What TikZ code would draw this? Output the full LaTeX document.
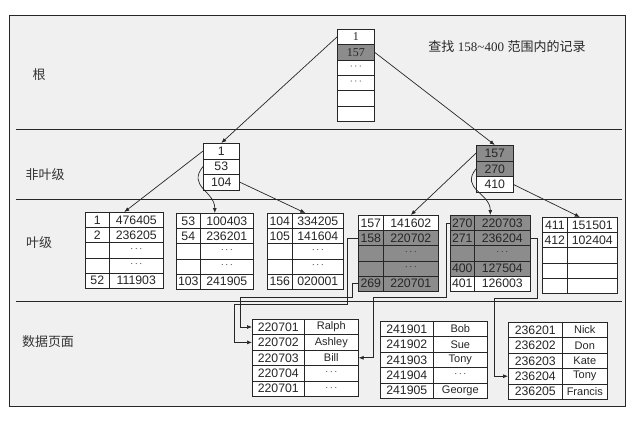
\documentclass[tikz,border=0pt]{standalone}
\usepackage{fontspec}
\setmainfont{Liberation Sans}
\newfontfamily\cjk{Noto Sans CJK SC}
\newfontfamily\serifnum{Liberation Serif}
\usetikzlibrary{arrows.meta,calc}
\newcommand\trow[9]{%
 \pgfmathsetlengthmacro\wa{#3-#2}\pgfmathsetlengthmacro\wb{#4-#3}%
 \node[cell,#9,anchor=north west,minimum width=\wa,minimum height=#6pt] (#1a) at (#2,#5) {#7};%
 \node[cell,#9,anchor=north west,minimum width=\wb,minimum height=#6pt] (#1b) at (#3,#5) {#8};}
\newcommand\scell[7]{%
 \pgfmathsetlengthmacro\wa{#3-#2}%
 \node[cell,#7,anchor=north west,minimum width=\wa,minimum height=#5pt] (#1) at (#2,#4) {#6};}
\newcommand\dd{{\fontsize{9}{9}\selectfont ·\,·\,·}}
\newcommand\nm[1]{{\fontsize{11}{11}\selectfont #1}}
\begin{document}
\begin{tikzpicture}[x=1pt,y=-1pt,
  cell/.style={draw=black!85,line width=0.6pt,fill=white,inner sep=0pt,text=black!85,
    font=\fontsize{12.3}{12.3}\selectfont},
  shade/.style={fill=black!45},
  rootcell/.style={font=\serifnum\fontsize{12}{12}\selectfont},
  arr/.style={-{Latex[length=5pt,width=4pt]},line width=0.7pt,draw=black!85},
  sep/.style={line width=0.8pt,draw=black!85},
  lvl/.style={font=\cjk\fontsize{13}{13}\selectfont,text=black!80}]
\useasboundingbox (0,0) rectangle (632,421);
% frame and separators
\draw[line width=0.9pt,draw=black!85,fill=black!6] (9,15) rectangle (625,406);
\coordinate (s1a) at (16,129); \coordinate (s1b) at (622,129);
\coordinate (s2a) at (16,199); \coordinate (s2b) at (622,199);
\coordinate (s3a) at (16,301); \coordinate (s3b) at (622,301);
\draw[sep] (s1a) -- (s1b);
\draw[sep] (s2a) -- (s2b);
\draw[sep] (s3a) -- (s3b);
% level labels
\node[lvl] (Lroot) at (39,75) {根};
\node[lvl] (Lnl) at (45,175) {非叶级};
\node[lvl] (Lleaf) at (39,243) {叶级};
\node[lvl] (Ldata) at (48,342) {数据页面};
\node[font=\fontsize{13}{13}\selectfont,text=black!85] (title) at (507,47)
  {{\cjk 查找} {\serifnum 158\textasciitilde 400} {\cjk 范围内的记录}};
% root
\scell{r1}{337}{374}{29}{15.3}{1}{rootcell}
\scell{r2}{337}{374}{44.3}{15.3}{157}{rootcell,shade}
\scell{r3}{337}{374}{59.6}{15.3}{\dd}{rootcell}
\scell{r4}{337}{374}{74.9}{15.3}{\dd}{rootcell}
\scell{r5}{337}{374}{90.2}{15.3}{}{rootcell}
\scell{r6}{337}{374}{105.5}{15.3}{}{rootcell}
% non-leaf
\scell{na1}{203}{239}{143}{15.5}{1}{}
\scell{na2}{203}{239}{158.5}{15.5}{53}{}
\scell{na3}{203}{239}{174}{15.5}{104}{}
\scell{nb1}{476}{513}{145}{15.7}{157}{shade}
\scell{nb2}{476}{513}{160.7}{15.7}{270}{shade}
\scell{nb3}{476}{513}{176.4}{15.7}{410}{}
% leaf 1
\trow{la1}{85}{109}{163}{212}{15.2}{1}{476405}{}
\trow{la2}{85}{109}{163}{227.2}{15.2}{2}{236205}{}
\trow{la3}{85}{109}{163}{242.4}{15.2}{}{\dd}{}
\trow{la4}{85}{109}{163}{257.6}{15.2}{}{\dd}{}
\trow{la5}{85}{109}{163}{272.8}{15.2}{52}{111903}{}
% leaf 2
\trow{lb1}{176}{200}{253}{213}{15.2}{53}{100403}{}
\trow{lb2}{176}{200}{253}{228.2}{15.2}{54}{236201}{}
\trow{lb3}{176}{200}{253}{243.4}{15.2}{}{\dd}{}
\trow{lb4}{176}{200}{253}{258.6}{15.2}{}{\dd}{}
\trow{lb5}{176}{200}{253}{273.8}{15.2}{103}{241905}{}
% leaf 3
\trow{lc1}{267}{292}{343}{213}{15.2}{104}{334205}{}
\trow{lc2}{267}{292}{343}{228.2}{15.2}{105}{141604}{}
\trow{lc3}{267}{292}{343}{243.4}{15.2}{}{\dd}{}
\trow{lc4}{267}{292}{343}{258.6}{15.2}{}{\dd}{}
\trow{lc5}{267}{292}{343}{273.8}{15.2}{156}{020001}{}
% leaf 4
\trow{ld1}{358}{383}{438}{215}{15.2}{157}{141602}{}
\trow{ld2}{358}{383}{438}{230.2}{15.2}{158}{220702}{shade}
\trow{ld3}{358}{383}{438}{245.4}{15.2}{}{\dd}{shade}
\trow{ld4}{358}{383}{438}{260.6}{15.2}{}{\dd}{shade}
\trow{ld5}{358}{383}{438}{275.8}{15.2}{269}{220701}{shade}
% leaf 5
\trow{le1}{450}{474}{530}{215}{15.2}{270}{220703}{shade}
\trow{le2}{450}{474}{530}{230.2}{15.2}{271}{236204}{shade}
\trow{le3}{450}{474}{530}{245.4}{15.2}{}{\dd}{shade}
\trow{le4}{450}{474}{530}{260.6}{15.2}{400}{127504}{shade}
\trow{le5}{450}{474}{530}{275.8}{15.2}{401}{126003}{}
% leaf 6
\trow{lf1}{542}{567}{617}{217}{15.2}{411}{151501}{}
\trow{lf2}{542}{567}{617}{232.2}{15.2}{412}{102404}{}
\trow{lf3}{542}{567}{617}{247.4}{15.2}{}{}{}
\trow{lf4}{542}{567}{617}{262.6}{15.2}{}{}{}
\trow{lf5}{542}{567}{617}{277.8}{15.2}{}{}{}
% data page 1
\trow{pa1}{252}{304}{358}{319}{15.4}{220701}{\nm{Ralph}}{}
\trow{pa2}{252}{304}{358}{334.4}{15.4}{220702}{\nm{Ashley}}{}
\trow{pa3}{252}{304}{358}{349.8}{15.4}{220703}{\nm{Bill}}{}
\trow{pa4}{252}{304}{358}{365.2}{15.4}{220704}{\dd}{}
\trow{pa5}{252}{304}{358}{380.6}{15.4}{220701}{\dd}{}
% data page 2
\trow{pb1}{380}{433}{487}{321}{15.4}{241901}{\nm{Bob}}{}
\trow{pb2}{380}{433}{487}{336.4}{15.4}{241902}{\nm{Sue}}{}
\trow{pb3}{380}{433}{487}{351.8}{15.4}{241903}{\nm{Tony}}{}
\trow{pb4}{380}{433}{487}{367.2}{15.4}{241904}{\dd}{}
\trow{pb5}{380}{433}{487}{382.6}{15.4}{241905}{\nm{George}}{}
% data page 3
\trow{pc1}{508}{562}{607}{322}{15.4}{236201}{\nm{Nick}}{}
\trow{pc2}{508}{562}{607}{337.4}{15.4}{236202}{\nm{Don}}{}
\trow{pc3}{508}{562}{607}{352.8}{15.4}{236203}{\nm{Kate}}{}
\trow{pc4}{508}{562}{607}{368.2}{15.4}{236204}{\nm{Tony}}{}
\trow{pc5}{508}{562}{607}{383.6}{15.4}{236205}{\nm{Francis}}{}
% tree connectors
\draw[arr] (r1.west) -- (na1.north);
\draw[arr] (r2.east) -- (nb1.north);
\draw[arr] (na1.west) -- ($(la1a.north west)!0.5!(la1b.north east)$);
\draw[arr] (na2.west) .. controls +(-16,20) and +(0,-22) .. ($(lb1a.north west)!0.5!(lb1b.north east)$);
\draw[arr] (na3.east) -- ($(lc1a.north west)!0.5!(lc1b.north east)$);
\draw[arr] (nb1.west) -- (ld1b.north);
\draw[arr] (nb2.west) .. controls +(-16,20) and +(0,-22) .. ($(le1a.north west)!0.5!(le1b.north east)$);
\draw[arr] (nb3.east) -- ($(lf1a.north west)!0.5!(lf1b.north east)$);
% leaf to data page connectors
\coordinate (k1) at (347,304); \coordinate (k2) at (234,304);
\coordinate (k3) at (352,297); \coordinate (k4) at (240,297);
\coordinate (k5) at (446,297); \coordinate (k6) at (373,297);
\coordinate (k7) at (537,298); \coordinate (k8) at (494,298);
\draw[arr] (ld2a.west) -| (k1) -- (k2) |- (pa2a.west);
\draw[arr] (ld5a.west) -| (k3) -- (k4) |- (pa1a.west);
\draw[arr] (le1a.west) -| (k5) -- (k6) |- (pa3b.east);
\draw[arr] (le2b.east) -| (k7) -- (k8) |- (pc4a.west);
\end{tikzpicture}
\end{document}
